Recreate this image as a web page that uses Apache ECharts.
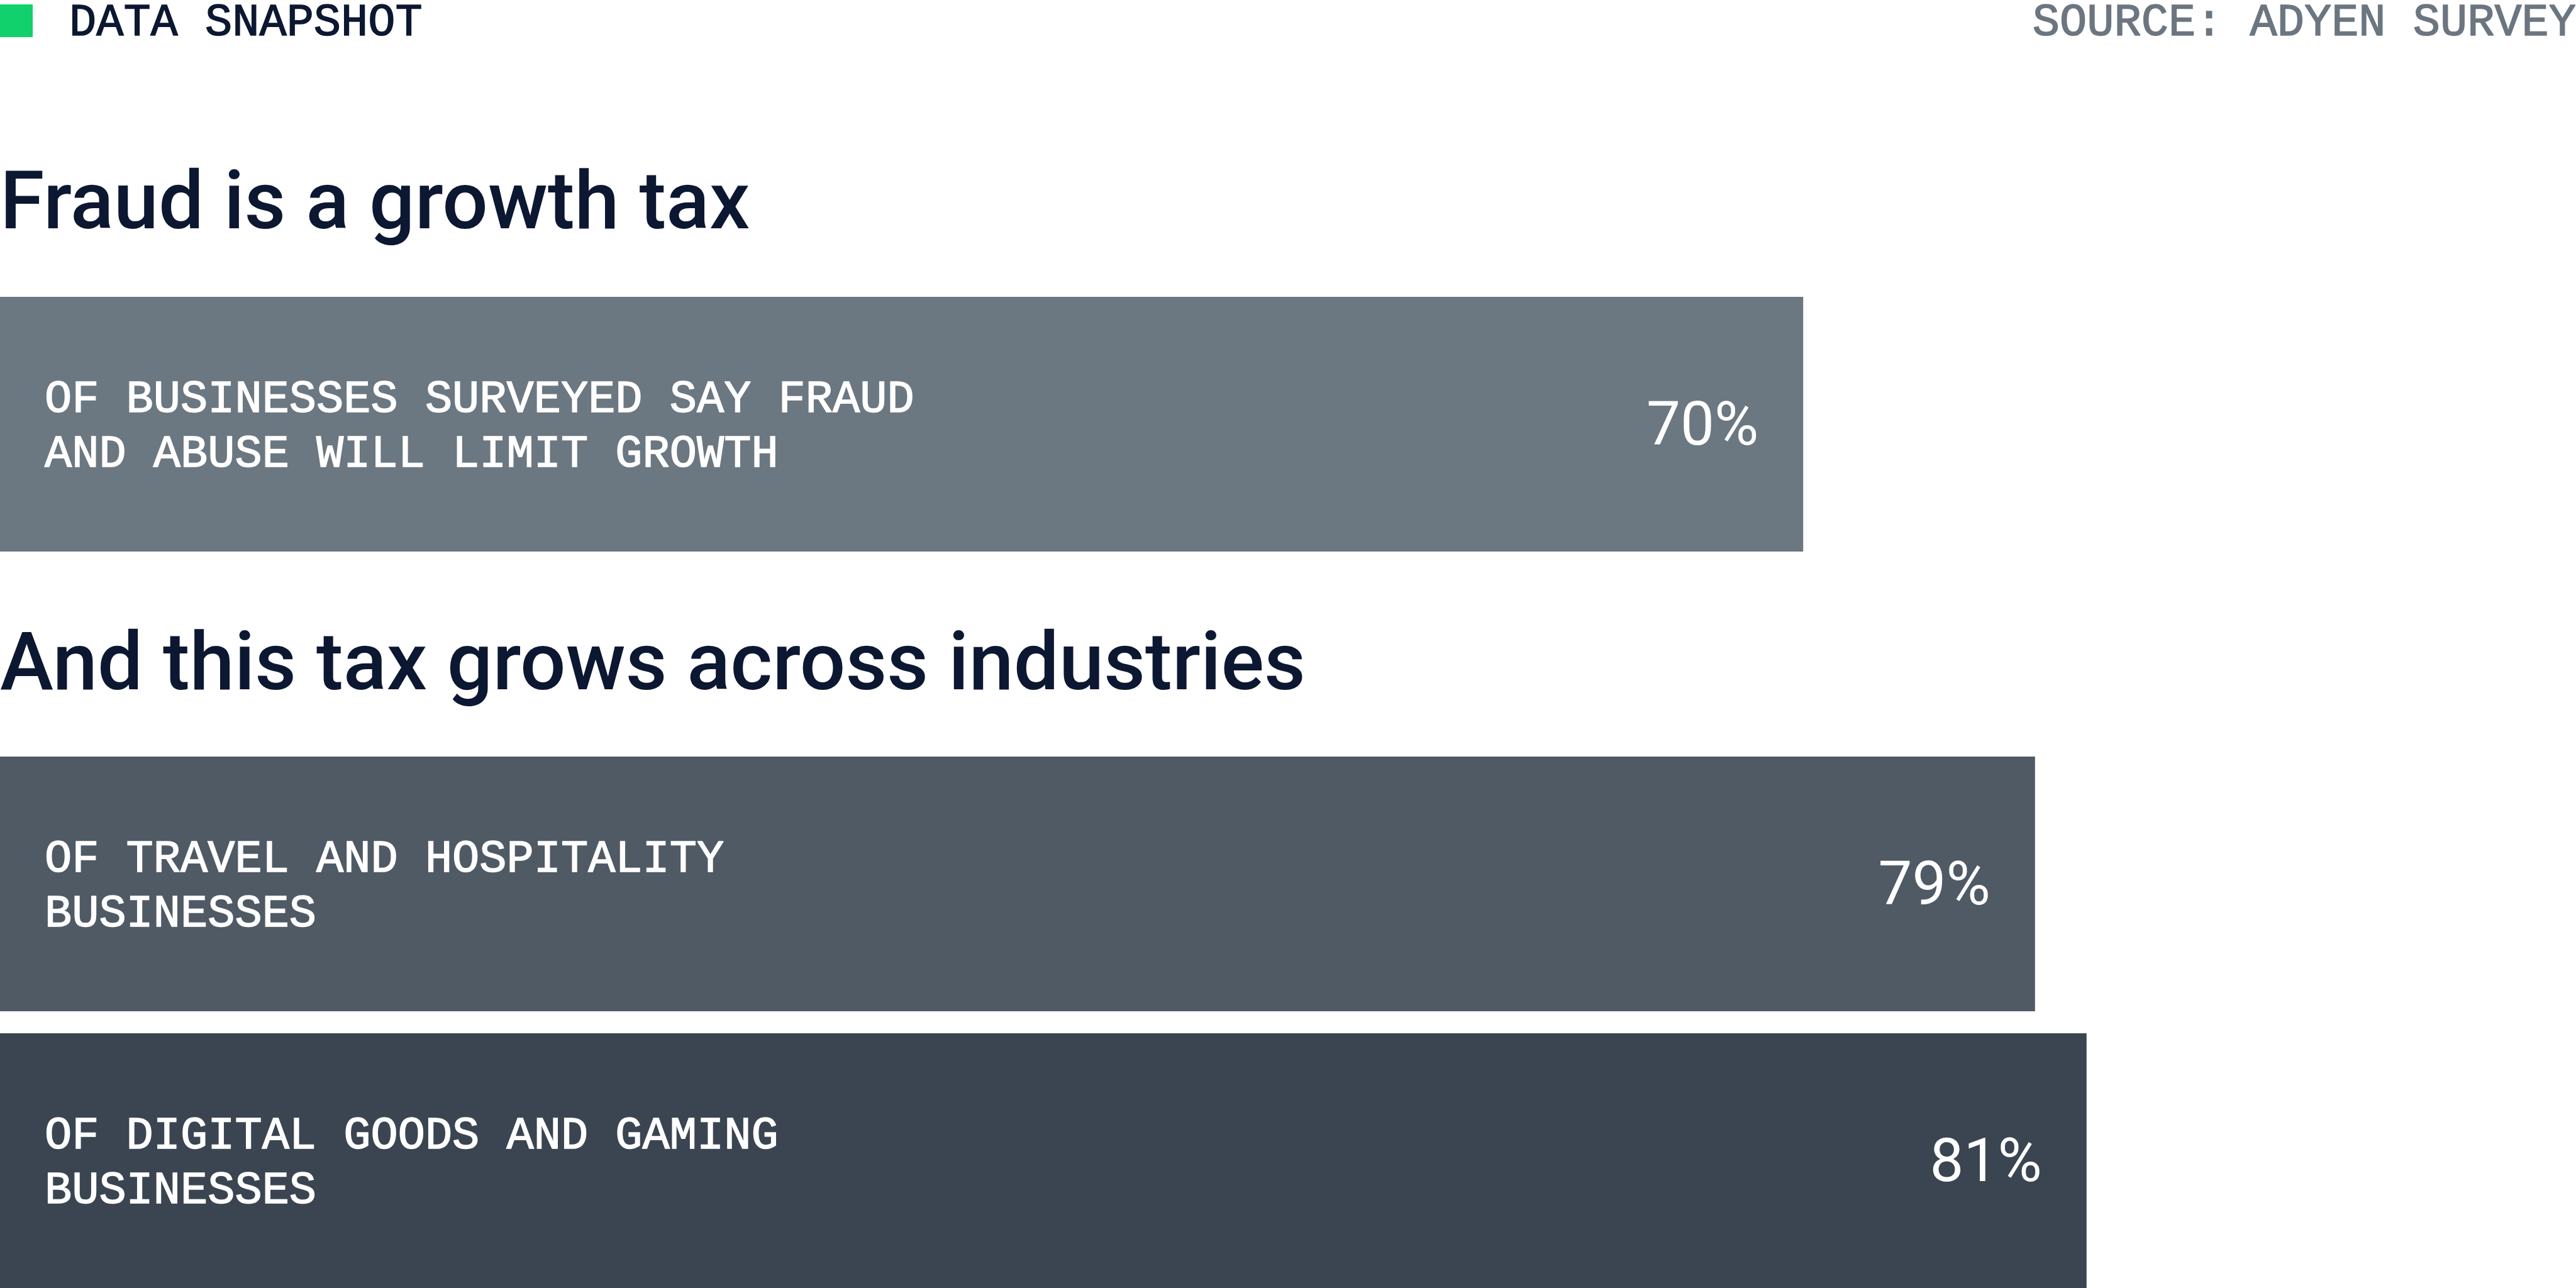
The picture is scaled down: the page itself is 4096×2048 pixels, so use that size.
<!DOCTYPE html>
<html lang="en">
<head>
    <meta charset="utf-8" />
    <title>Fraud is a growth tax</title>
    <script type="text/javascript" src="https://cdn.jsdelivr.net/npm/echarts@6/dist/echarts.min.js"></script>
</head>
<body style="margin:0;background-color:#ffffff">
    <div id="container" style="width:4096px;height:2048px;"></div>
</body>
</html>
<script type="text/javascript">
    // chart data
    var headerText = 'DATA SNAPSHOT';
    var sourceText = 'SOURCE: ADYEN SURVEY';
    var sectionTitles = ['Fraud is a growth tax', 'And this tax grows across industries'];

    var barLabels = [
        'OF BUSINESSES SURVEYED SAY FRAUD\nAND ABUSE WILL LIMIT GROWTH',
        'OF TRAVEL AND HOSPITALITY\nBUSINESSES',
        'OF DIGITAL GOODS AND GAMING\nBUSINESSES'
    ];
    var barValues = [70, 79, 81];
    var barColors = ['#6b7781', '#4f5a65', '#3a4551'];

    // where each bar row sits (px)
    var rowTops = [472, 1203, 1643];
    var rowHeight = 405;

    var dom = document.getElementById('container');
    var myChart = echarts.init(dom);

    var monoFont = '"Liberation Mono", "DejaVu Sans Mono", monospace';
    var sansFont = 'Roboto, Inter, sans-serif';

    var grids = [], xAxes = [], yAxes = [], series = [];
    for (var i = 0; i < barValues.length; i++) {
        grids.push({ left: 0, right: 0, top: rowTops[i], height: rowHeight });
        xAxes.push({ type: 'value', gridIndex: i, min: 0, max: 100, show: false });
        yAxes.push({ type: 'category', gridIndex: i, data: [barLabels[i]], show: false });
        // the bar with its description
        series.push({
            type: 'bar', xAxisIndex: i, yAxisIndex: i,
            barWidth: rowHeight, barGap: '-100%',
            data: [{ value: barValues[i], itemStyle: { color: barColors[i] } }],
            label: {
                show: true,
                position: 'insideLeft',
                distance: 71,
                offset: [0, 5],
                color: '#ffffff',
                textBorderColor: '#ffffff',
                textBorderWidth: 1.5,
                fontFamily: monoFont,
                fontSize: 72,
                lineHeight: 87,
                formatter: function (p) { return p.name; }
            }
        });
        // transparent twin that carries the value at the right end
        series.push({
            type: 'bar', xAxisIndex: i, yAxisIndex: i,
            barWidth: rowHeight, barGap: '-100%',
            data: [barValues[i]],
            itemStyle: { color: 'rgba(0,0,0,0)' },
            label: {
                show: true,
                position: 'insideRight',
                distance: 71,
                offset: [0, 8],
                color: '#ffffff',
                fontFamily: sansFont,
                fontSize: 96,
                formatter: '{c}%'
            }
        });
    }

    var option = {
        backgroundColor: '#ffffff',
        animation: false,
        graphic: [
            { type: 'rect', shape: { x: 0, y: 7, width: 52, height: 52 }, style: { fill: '#10d16c' } },
            {
                type: 'text', x: 110, y: 37,
                style: {
                    text: headerText, fill: '#0c1731', stroke: '#0c1731', lineWidth: 1.5,
                    font: '72px ' + monoFont, verticalAlign: 'middle', align: 'left'
                }
            },
            {
                type: 'text', x: 4096, y: 37,
                style: {
                    text: sourceText, fill: '#6b7680', stroke: '#6b7680', lineWidth: 1.5,
                    font: '72px ' + monoFont, verticalAlign: 'middle', align: 'right'
                }
            },
            {
                type: 'text', x: 0, y: 331,
                style: { text: sectionTitles[0], fill: '#0c1731', font: '500 128px ' + sansFont, verticalAlign: 'middle', align: 'left' }
            },
            {
                type: 'text', x: 0, y: 1064,
                style: { text: sectionTitles[1], fill: '#0c1731', font: '500 128px ' + sansFont, verticalAlign: 'middle', align: 'left' }
            }
        ],
        grid: grids,
        xAxis: xAxes,
        yAxis: yAxes,
        series: series
    };
    if (option && typeof option === 'object') {
        myChart.setOption(option, true);
    }
</script>
